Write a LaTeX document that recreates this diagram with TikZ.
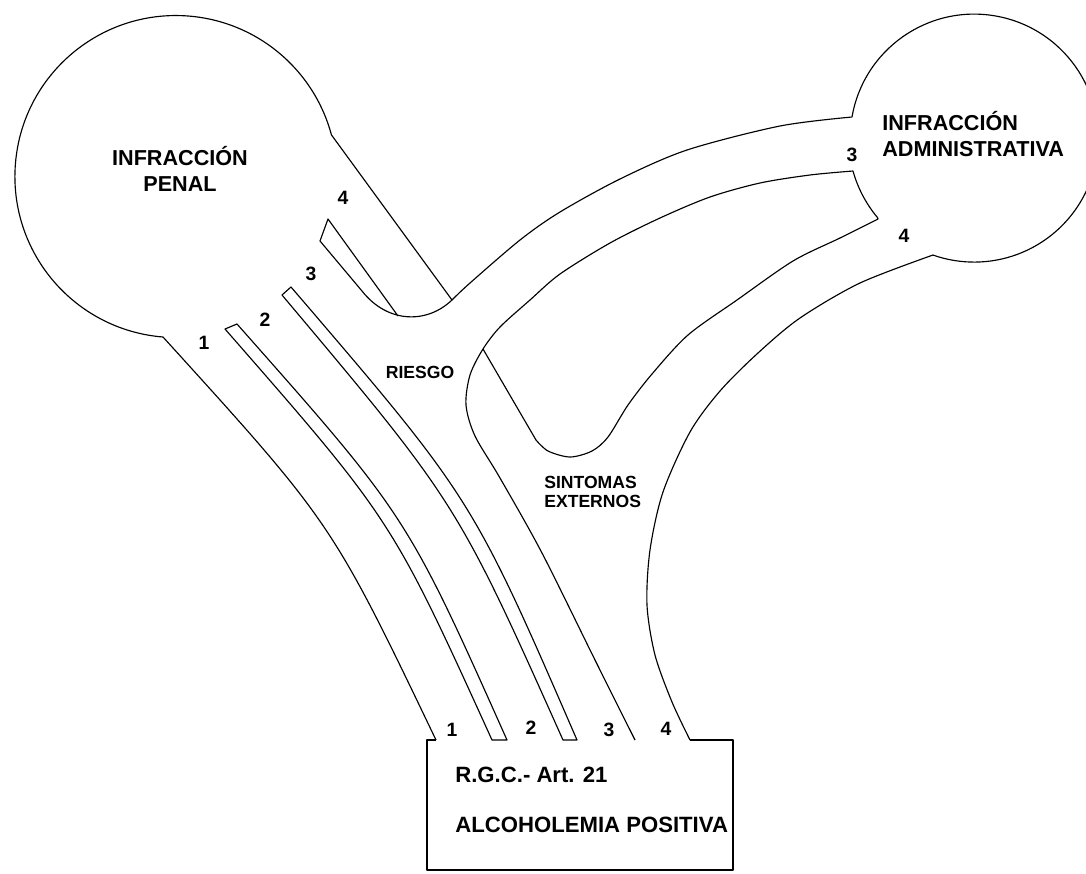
\documentclass[tikz,border=0pt]{standalone}
\usepackage{fontspec}
\setmainfont{Liberation Sans}

\begin{document}
\begin{tikzpicture}[
  x=0.02cm, y=-0.02cm,
  wall/.style={line width=0.65pt, black, line join=round},
  title/.style={font=\fontsize{12.3}{14.6}\selectfont\bfseries, align=center, inner sep=0pt},
  boxtext/.style={font=\fontsize{12.6}{14.6}\selectfont\bfseries, anchor=west, inner sep=0pt},
  lbl/.style={font=\fontsize{10}{11.3}\selectfont\bfseries, align=left, inner sep=0pt},
  num/.style={font=\fontsize{11}{12}\selectfont\bfseries, inner sep=0pt},
]
\useasboundingbox (0,0) rectangle (1086,873);
\clip (0,0) rectangle (1086,873);
% --- box ---
\draw[wall] (436,740) -- (427,740) -- (427,870) -- (733,870) -- (733,740) -- (690,740);
% --- penal circle, channel 1 and channel 4 ---
\draw[wall] (436,740) .. controls (332,523) .. (163,337)
  arc[start angle=94.6, end angle=345, radius=161] -- (452,300);
\draw[wall] (492,740) .. controls (392,520) .. (225,329) -- (237,324)
  .. controls (407,516) .. (507,740) -- cycle;
\draw[wall] (563,740) .. controls (457,503) .. (282,295) -- (291,287)
  .. controls (472,498) .. (577,740) -- cycle;
% --- riesgo junction, admin circle, outer channel 4 ---
\draw[wall] (398,316) -- (328,219) -- (320,241) -- (362,291)
  .. controls (388,324) and (428,324) .. (453,299)
  -- plot[smooth] coordinates {(453,299) (470,283) (520,240) (560,212) (620,179) (687,150) (780,126) (852,117)}
  arc[start angle=189.8, end angle=469.3, radius=124]
  -- plot[smooth] coordinates {(933,255) (860,283) (800,318) (758,353) (720,391) (690,432) (663,492) (650,550) (647,605) (655,655) (672,702) (690,740)};
% --- channel 3 to admin, sintomas externos ---
\draw[wall] plot[smooth] coordinates {(635,740) (596,662) (542,553) (500,478) (475,436) (466,405) (470,375) (483,349) (500,327) (530,300) (560,274) (610,243) (660,218) (710,197) (760,183) (810,175) (853,171)}
  arc[start angle=164.4, end angle=140.1, radius=125]
  -- plot[smooth] coordinates {(878,219) (840,238) (793,261) (737,300) (688,335) (652,374) (628,405) (608,437) (592,451) (570,457) (548,451) (536,440)}
  -- (483,349);
% --- texts ---
\node[title] (penal) at (180,169) {INFRACCIÓN\\PENAL};
\node[title, align=left, anchor=west] (admin) at (882,134) {INFRACCIÓN\\ADMINISTRATIVA};
\node[lbl] (riesgo) at (420,372) {RIESGO};
\node[lbl, anchor=west] (sintomas) at (544,492) {SINTOMAS\\EXTERNOS};
\node[boxtext] (rgc) at (455,775) {R.G.C.- Art. 21};
\node[boxtext] (alco) at (455,825) {ALCOHOLEMIA POSITIVA};
% --- channel numbers ---
\node[num] (p1) at (204,343) {1};
\node[num] (p2) at (265,320) {2};
\node[num] (p3) at (311,274) {3};
\node[num] (p4) at (343,198) {4};
\node[num] (a3) at (852,155) {3};
\node[num] (a4) at (904,236) {4};
\node[num] (b1) at (452,730) {1};
\node[num] (b2) at (531,728) {2};
\node[num] (b3) at (609,730) {3};
\node[num] (b4) at (666,729) {4};
\end{tikzpicture}
\end{document}
